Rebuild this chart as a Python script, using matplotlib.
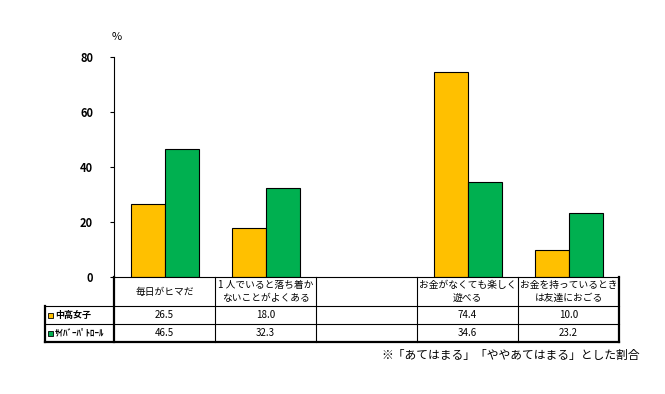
import numpy as np
import matplotlib.pyplot as plt
from matplotlib.patches import Rectangle

plt.rcParams['font.family'] = ['Noto Sans CJK JP', 'DejaVu Sans']

# data
categories = ["毎日がヒマだ",
              "1 人でいると落ち着か\nないことがよくある",
              "",
              "お金がなくても楽しく\n遊べる",
              "お金を持っているとき\nは友達におごる"]
series_names = ["中高女子", "ｻｲﾊﾞｰﾊﾟﾄﾛｰﾙ"]
girls = [26.5, 18.0, np.nan, 74.4, 10.0]
cyber = [46.5, 32.3, np.nan, 34.6, 23.2]
colors = ['#FFC000', '#00B050']
yticks = [0, 20, 40, 60, 80]
note = "※「あてはまる」「ややあてはまる」とした割合"

W, H = 665, 394
fig = plt.figure(figsize=(W / 100, H / 100), dpi=100)

x0, x1 = 114, 619
ytop, ybot = 57, 277
ax = fig.add_axes([x0 / W, 1 - ybot / H, (x1 - x0) / W, (ybot - ytop) / H])
n = len(categories)
pos = np.arange(n)
bw = 0.336
ax.bar(pos + 0.168, girls, width=bw, align='edge', color=colors[0],
       edgecolor='black', linewidth=0.8)
ax.bar(pos + 0.168 + bw, cyber, width=bw, align='edge', color=colors[1],
       edgecolor='black', linewidth=0.8)
ax.set_xlim(0, n)
ax.set_ylim(0, 80)
ax.set_yticks(yticks)
ax.set_yticklabels([str(v) for v in yticks], fontsize=8, fontweight='bold')
ax.tick_params(axis='y', length=3, width=0.8, pad=12)
ax.set_xticks([])
for s in ['top', 'right', 'bottom']:
    ax.spines[s].set_visible(False)
ax.spines['left'].set_linewidth(0.8)
fig.text(117 / W, 1 - 37 / H, "%", fontsize=8, ha='center', va='center')

# table below the axes
lx = 45
tw = x0 - lx
tab = fig.add_axes([lx / W, 1 - 342 / H, (x1 - lx) / W, 65 / H])
tab.set_xlim(-tw / 101, n)
tab.set_ylim(65, 0)
tab.axis('off')
left = -tw / 101
thin = 0.8
thick = 1.6
# horizontal lines
tab.plot([0, n], [0, 0], color='black', lw=thin)
tab.plot([left, n], [29, 29], color='black', lw=thin)
tab.plot([left, n], [47, 47], color='black', lw=thin)
tab.plot([left, n], [65, 65], color='black', lw=thick)
# vertical lines
tab.plot([left, left], [29, 65], color='black', lw=thick)
tab.plot([0, 0], [0, 65], color='black', lw=thick)
for i in range(1, n):
    tab.plot([i, i], [0, 65], color='black', lw=thin)
tab.plot([n, n], [0, 65], color='black', lw=thick)
for a in tab.lines:
    a.set_clip_on(False)

for i, c in enumerate(categories):
    tab.text(i + 0.5, 14.5, c, ha='center', va='center', fontsize=7,
             linespacing=1.45)
for r, vals in enumerate([girls, cyber]):
    yc = 38 + r * 18
    for i, v in enumerate(vals):
        if not np.isnan(v):
            tab.text(i + 0.5, yc, f"{v:.1f}", ha='center', va='center',
                     fontsize=7)
    tab.add_patch(Rectangle((left + 0.03, yc - 2.5), 0.05, 5,
                            facecolor=colors[r], edgecolor='black',
                            lw=0.6, clip_on=False))
    tab.text(left + 0.1, yc, series_names[r], ha='left', va='center',
             fontsize=6.5, fontweight='bold')

fig.text(640 / W, 1 - 355 / H, note, ha='right', va='center', fontsize=8.5)

fig.savefig('out.png', dpi=100)
